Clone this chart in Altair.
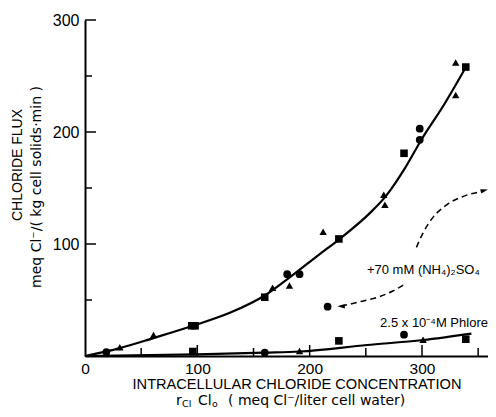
import altair as alt
import pandas as pd

# ---------------- data ----------------
# control cells: points on the upper curve
ctrl_x = [19, 31, 61, 95, 98, 160, 167, 180, 182, 191, 212, 226, 266, 267, 284, 298, 298, 330, 330, 339]
ctrl_y = [3.5, 7.8, 18.8, 27, 27, 52.5, 61, 73, 63, 73, 111, 104.5, 144, 135, 181, 193, 203, 233, 262, 258]
ctrl_shape = ["circle", "triangle", "triangle", "square", "square", "square", "triangle", "circle",
              "triangle", "circle", "triangle", "square", "triangle", "triangle", "square", "circle",
              "circle", "triangle", "triangle", "square"]

# fitted upper curve
fit_x = [0, 31, 61, 96, 130, 160, 182, 209, 226, 254, 268, 285, 300, 320, 338]
fit_y = [0, 7, 16, 27, 39, 54, 70, 91, 104, 128, 143, 168, 194, 225, 256]

# phloretin-treated cells
phl_x = [96, 160, 191, 226, 284, 301, 339]
phl_y = [4, 3, 4.5, 13.5, 19, 14.5, 15]
phl_shape = ["square", "circle", "triangle", "square", "circle", "triangle", "square"]

phl_fit_x = [0, 100, 160, 191, 251, 301, 344]
phl_fit_y = [0, 1.5, 3, 4, 9.8, 14.3, 20]

# + 70 mM (NH4)2SO4
nh4_x = [216, 368]
nh4_y = [44, 152]

# dashed curved arrow between the two (NH4)2SO4 points (data units)
arrow_lo_x = [228, 245, 262, 274, 286]
arrow_lo_y = [44.5, 48.5, 53, 58, 65]
arrow_hi_x = [295, 301, 310, 322, 338, 354]
arrow_hi_y = [97, 110, 124, 135, 143, 147]
arrow_head_r = (355.5, 147.8)

x_major = [0, 100, 200, 300]
x_minor = [50, 150, 250, 350]
y_major = [100, 200, 300]
y_minor = [50, 150, 250]

# ---------------- tables ----------------
pts = pd.concat([
    pd.DataFrame({"x": ctrl_x, "y": ctrl_y, "shape": ctrl_shape}),
    pd.DataFrame({"x": phl_x, "y": phl_y, "shape": phl_shape}),
    pd.DataFrame({"x": nh4_x, "y": nh4_y, "shape": ["circle"] * len(nh4_x)}),
], ignore_index=True)
fit = pd.DataFrame({"x": fit_x, "y": fit_y})
phl_fit = pd.DataFrame({"x": phl_fit_x, "y": phl_fit_y})
arrow = pd.concat([
    pd.DataFrame({"x": arrow_lo_x, "y": arrow_lo_y, "seg": "lo"}),
    pd.DataFrame({"x": arrow_hi_x, "y": arrow_hi_y, "seg": "hi"}),
], ignore_index=True)
head_l_df = pd.DataFrame({"x": [arrow_lo_x[0]], "y": [arrow_lo_y[0]]})
head_r_df = pd.DataFrame({"x": [arrow_head_r[0]], "y": [arrow_head_r[1]]})

F = "Liberation Sans, Arial, sans-serif"
F2 = "DejaVu Sans, sans-serif"
W, H = 403, 336

XS = alt.Scale(domain=[0, W / 1.1233], nice=False, zero=False)
YS = alt.Scale(domain=[0, 300], nice=False, zero=False)
xaxis = alt.Axis(values=x_major, ticks=False, grid=False, title=None, labelFontSize=15.5,
                 labelFont=F, labelColor="black", domainColor="black", domainWidth=2,
                 labelPadding=5, labelFlush=False)
yaxis = alt.Axis(values=y_major, ticks=False, grid=False, title=None, labelFontSize=16,
                 labelFont=F, labelColor="black", domainColor="black", domainWidth=2,
                 labelPadding=6)


def X(f="x"):
    return alt.X(f"{f}:Q", scale=XS, axis=xaxis)


def Y(f="y"):
    return alt.Y(f"{f}:Q", scale=YS, axis=yaxis)


fit_line = alt.Chart(fit).mark_line(color="black", strokeWidth=2.2, interpolate="monotone").encode(x=X(), y=Y())
phl_line = alt.Chart(phl_fit).mark_line(color="black", strokeWidth=2.2, interpolate="monotone").encode(x=X(), y=Y())

points = alt.Chart(pts).mark_point(filled=True, color="black", opacity=1, clip=True).encode(
    x=X(), y=Y(),
    shape=alt.Shape("shape:N", scale=alt.Scale(domain=["circle", "square", "triangle"],
                                               range=["circle", "square", "triangle-up"]), legend=None),
    size=alt.Size("shape:N", scale=alt.Scale(domain=["circle", "square", "triangle"],
                                             range=[60, 55, 65]), legend=None),
)

dashed = alt.Chart(arrow).mark_line(color="black", strokeWidth=1.5, strokeDash=[6, 4],
                                    interpolate="monotone").encode(x=X(), y=Y(), detail="seg:N")

head_l = alt.Chart(head_l_df).mark_point(
    filled=True, color="black", opacity=1, shape="M -1 0 L 1 -0.6 L 1 0.6 Z", size=55
).encode(x=X(), y=Y())
head_r = alt.Chart(head_r_df).mark_point(
    filled=True, color="black", opacity=1, shape="M 1 0 L -1 -0.6 L -1 0.6 Z", size=55, angle=345
).encode(x=X(), y=Y())

# ticks pointing into the plot
xt_major = alt.Chart(pd.DataFrame({"v": x_major[1:]})).mark_rule(color="black", strokeWidth=1.5).encode(
    x=X("v"), y=alt.value(H), y2=alt.value(H - 11))
xt_minor = alt.Chart(pd.DataFrame({"v": x_minor})).mark_rule(color="black", strokeWidth=1.5).encode(
    x=X("v"), y=alt.value(H), y2=alt.value(H - 8))
yt_major = alt.Chart(pd.DataFrame({"v": y_major})).mark_rule(color="black", strokeWidth=1.5).encode(
    y=Y("v"), x=alt.value(0), x2=alt.value(11))
yt_minor = alt.Chart(pd.DataFrame({"v": y_minor})).mark_rule(color="black", strokeWidth=1.5).encode(
    y=Y("v"), x=alt.value(0), x2=alt.value(7))

nh4_label = alt.Chart(pd.DataFrame({"t": ["+70 mM (NH\u2084)\u2082SO\u2084"]})).mark_text(
    font=F, fontSize=13, align="left", baseline="middle", color="black").encode(
    x=alt.X(datum=251, scale=XS, axis=xaxis), y=alt.Y(datum=77, scale=YS, axis=yaxis), text="t:N")
phl_label = alt.Chart(pd.DataFrame({"t": ["2.5 x 10\u207b\u2074M Phloretin"]})).mark_text(
    font=F, fontSize=13, align="left", baseline="middle", color="black", clip=True).encode(
    x=alt.X(datum=262.7, scale=XS, axis=xaxis), y=alt.Y(datum=29.5, scale=YS, axis=yaxis), text="t:N")


def txt(s, x, y, size, angle=0, align="center", baseline="alphabetic", font=F):
    kw = dict(font=font, fontSize=size, align=align, baseline=baseline, color="black")
    if angle:
        kw["angle"] = angle
    return alt.Chart(pd.DataFrame({"t": [s]})).mark_text(**kw).encode(
        x=alt.value(x), y=alt.value(y), text="t:N")


titles = [
    txt("CHLORIDE FLUX", -67, 145, 14, angle=270, baseline="middle"),
    txt("meq Cl\u207b/( kg cell solids\u00b7min )", -48, 167, 14, angle=270, baseline="middle", font=F2),
    txt("INTRACELLULAR CHLORIDE CONCENTRATION", 212, 369, 14.6),
    txt("r", 91, 385, 14, align="left", font=F2),
    txt("Cl", 97, 386.5, 9.5, align="left", font=F2),
    txt("Cl", 113, 385, 14, align="left", font=F2),
    txt("o", 127, 386.5, 9.5, align="left", font=F2),
    txt("( meq Cl\u207b/liter cell water)", 143, 385, 14, align="left", font=F2),
]

chart = alt.layer(
    xt_major, xt_minor, yt_major, yt_minor,
    fit_line, phl_line, dashed, head_l, head_r, points, nh4_label, phl_label, *titles
).properties(
    width=W, height=H,
    autosize=alt.AutoSizeParams(type="none"),
    padding={"left": 77, "top": 12, "right": 0, "bottom": 53},
).configure_view(stroke=None)

chart.save("out.html", embed_options={"renderer": "svg", "actions": False})
